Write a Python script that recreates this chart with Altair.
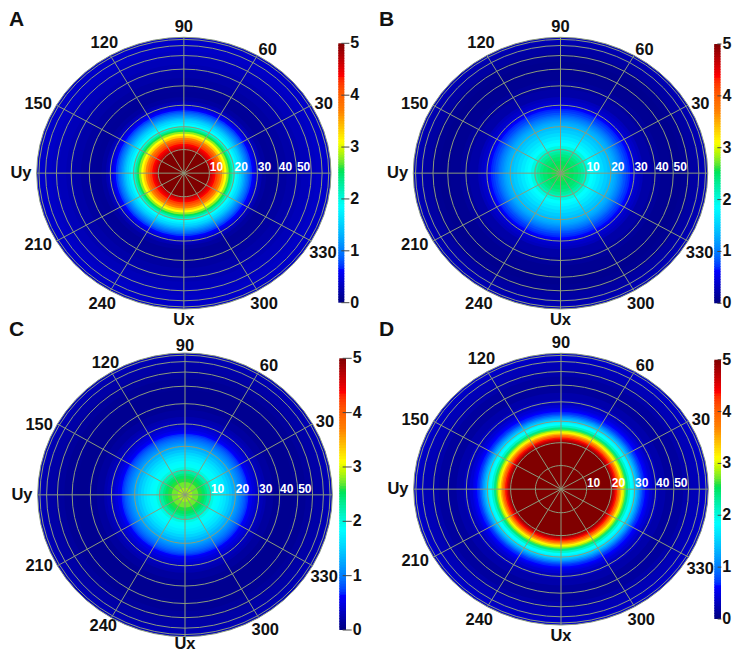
import math

import altair as alt
import pandas as pd

# Radial profiles: radius (fraction of the disk) and value,
# outermost first. Each pair is painted as a disk, inner ones on top.
A_RADIUS = [1.0, .95, .9, .85, .8, .75, .7, .65, .6, .56, .53, .515, .5, .4875, .475, .4625, .45, .44, .43, .42, .41, .4, .39, .375, .36, .345, .33, .317, .305, .29, .275, .26, .245, .23, .215, .203, .192, .18, .17]
A_VALUE = [.38, .36, .33, .29, .25, .21, .17, .13, .12, .17, .26, .33, .42, .52, .625, .73, .85, .95, 1.05, 1.17, 1.3, 1.42, 1.55, 1.7, 1.85, 2.05, 2.3, 2.55, 2.8, 3.1, 3.35, 3.7, 4, 4.2, 4.375, 4.5, 4.6, 4.75, 5]
B_RADIUS = [1.0, .97, .93, .88, .82, .75, .68, .62, .56, .54, .52, .5, .486, .473, .46, .445, .43, .42, .41, .4, .39, .38, .37, .357, .345, .32, .295, .27, .245, .225, .2, .18, .16, .14, .12, .09, .06, .03]
B_VALUE = [.3, .24, .18, .1, .08, .1, .14, .2, .3, .36, .42, .52, .625, .67, .72, .8, .88, .95, 1.02, 1.08, 1.15, 1.22, 1.28, 1.34, 1.4, 1.48, 1.58, 1.68, 1.78, 1.85, 2.0, 2.15, 2.28, 2.38, 2.46, 2.52, 2.58, 2.62]
C_RADIUS = [1.0, .97, .93, .88, .82, .74, .66, .6, .55, .53, .51, .49, .475, .457, .44, .43, .42, .41, .4, .39, .38, .37, .36, .35, .34, .32, .3, .28, .26, .24, .22, .195, .17, .15, .135, .115, .09, .05]
C_VALUE = [.3, .25, .2, .15, .11, .09, .11, .16, .24, .29, .34, .4, .46, .54, .625, .69, .76, .83, .9, .96, 1.03, 1.09, 1.16, 1.23, 1.3, 1.42, 1.54, 1.65, 1.73, 1.8, 1.88, 2.0, 2.25, 2.4, 2.5, 2.6, 2.72, 2.85]
D_RADIUS = [1.0, .97, .93, .88, .83, .77, .71, .66, .62, .6, .59, .58, .57, .56, .55, .54, .53, .52, .51, .5, .493, .486, .47, .455, .44, .43, .42, .41, .4, .39, .38, .37, .36, .35, .342]
D_VALUE = [.4, .34, .28, .22, .16, .15, .22, .32, .42, .5, .56, .625, .67, .72, .85, 1.0, 1.17, 1.35, 1.5, 1.65, 1.75, 1.85, 2.1, 2.4, 2.7, 2.95, 3.15, 3.45, 3.75, 4.05, 4.35, 4.55, 4.75, 4.9, 5]

# Grid and labels
RING_DEG = [10, 20, 30, 40, 50, 60, 70, 80, 90]
RING_LABELS = [10, 20, 30, 40, 50]
SPOKE_DEG = list(range(0, 360, 30))
AZ_TEXT = ["90", "120", "60", "150", "30", "Uy", "210", "330", "240", "300", "Ux"]
AZ_X = [0, -.54, .57, -.99, .95, -1.107, -.99, .945, -.555, .545, 0]
AZ_Y = [1.078, .956, .907, .507, .51, 0, -.527, -.588, -.961, -.961, -1.083]
AZ_Y_C = [1.052, .93, .906, .493, .512, 0, -.502, -.58, -.925, -.955, -1.05]
BAR_TICKS = [0, 1, 2, 3, 4, 5]
BAR_STEPS = [i / 20 for i in range(100)]

# Colour stops
JET_STOPS = [0, .625, 1.85, 2.2, 2.6, 3.1, 3.7, 4.375, 5]
JET_COLORS = ["#000080", "#0000ff", "#00ffff", "#00f0b0", "#20e040", "#ffff00", "#ff8000", "#ff0000", "#800000"]
jet = alt.Scale(domain=JET_STOPS, range=JET_COLORS)

FONT = "Liberation Sans"
GRID = "#8b9a7c"
AZ_SAMPLES = list(range(0, 360, 6))


def circle_points(radius):
    return [
        {"az": a, "x": radius * math.cos(math.radians(a)), "y": radius * math.sin(math.radians(a))}
        for a in AZ_SAMPLES
    ]


def panel(letter, letter_pos, xr, yr, bar_x, bar_y, label_x, radius, value, az_y):
    x_enc = alt.X("x:Q", axis=None, scale=alt.Scale(domain=[-1, 1], range=xr, nice=False, zero=False))
    y_enc = alt.Y("y:Q", axis=None, scale=alt.Scale(domain=[-1, 1], range=yr, nice=False, zero=False))

    rows = []
    for k, (r, v) in enumerate(zip(radius, value)):
        rows += [{"k": k, "v": v, **p} for p in circle_points(r)]
    heat = (
        alt.Chart(pd.DataFrame(rows))
        .mark_line(interpolate="linear-closed", filled=True, strokeWidth=0)
        .encode(
            x=x_enc,
            y=y_enc,
            detail=alt.Detail("k:N"),
            order=alt.Order("az:Q"),
            fill=alt.Fill("v:Q", scale=jet, legend=None),
        )
    )

    ring_rows = []
    for deg in RING_DEG:
        ring_rows += [{"ring": deg, **p} for p in circle_points(math.sin(math.radians(deg)))]
    rings = (
        alt.Chart(pd.DataFrame(ring_rows))
        .mark_line(interpolate="linear-closed", color=GRID, strokeWidth=1)
        .encode(x=x_enc, y=y_enc, detail=alt.Detail("ring:N"), order=alt.Order("az:Q"))
    )

    spoke_df = pd.DataFrame({
        "x": [0.0] * len(SPOKE_DEG),
        "y": [0.0] * len(SPOKE_DEG),
        "x2": [math.cos(math.radians(d)) for d in SPOKE_DEG],
        "y2": [math.sin(math.radians(d)) for d in SPOKE_DEG],
    })
    spokes = (
        alt.Chart(spoke_df)
        .mark_rule(color=GRID, strokeWidth=1)
        .encode(x=x_enc, y=y_enc, x2="x2:Q", y2="y2:Q")
    )

    ring_text = (
        alt.Chart(pd.DataFrame({
            "x": [math.sin(math.radians(d)) for d in RING_LABELS],
            "y": [0.0] * len(RING_LABELS),
            "t": [str(d) for d in RING_LABELS],
        }))
        .mark_text(font=FONT, fontSize=12, fontWeight="bold", color="white", dx=7, dy=-6, align="center", baseline="middle")
        .encode(x=x_enc, y=y_enc, text="t:N")
    )

    az_text = (
        alt.Chart(pd.DataFrame({"x": AZ_X, "y": az_y, "t": AZ_TEXT}))
        .mark_text(font=FONT, fontSize=16.5, fontWeight="bold", color="#111111", align="center", baseline="middle")
        .encode(x=x_enc, y=y_enc, text="t:N")
    )

    # colour bar
    bar_xs = alt.X("bx:Q", axis=None, scale=alt.Scale(domain=[0, 1], range=bar_x, nice=False, zero=False))
    bar_ys = alt.Y("by:Q", axis=None, scale=alt.Scale(domain=[0, 5], range=bar_y, nice=False, zero=False))
    bar_df = pd.DataFrame({
        "bx": [0.0] * len(BAR_STEPS),
        "bx2": [1.0] * len(BAR_STEPS),
        "by": BAR_STEPS,
        "by2": [min(5, s + .07) for s in BAR_STEPS],
        "v": [s + .025 for s in BAR_STEPS],
    })
    bar = (
        alt.Chart(bar_df)
        .mark_rect()
        .encode(x=bar_xs, x2="bx2:Q", y=bar_ys, y2="by2:Q", fill=alt.Fill("v:Q", scale=jet, legend=None))
    )
    tick_df = pd.DataFrame({
        "bx": [.5] * len(BAR_TICKS),
        "bx2": [label_x - .15] * len(BAR_TICKS),
        "by": BAR_TICKS,
        "lx": [label_x] * len(BAR_TICKS),
        "t": [str(t) for t in BAR_TICKS],
    })
    bar_ticks = (
        alt.Chart(tick_df)
        .mark_rule(color="#444444", strokeWidth=1)
        .encode(x=bar_xs, x2="bx2:Q", y=bar_ys)
    )
    bar_text = (
        alt.Chart(tick_df)
        .mark_text(font=FONT, fontSize=16, fontWeight="bold", color="#111111", align="left", baseline="middle")
        .encode(
            x=alt.X("lx:Q", axis=None, scale=alt.Scale(domain=[0, 1], range=bar_x, nice=False, zero=False)),
            y=bar_ys,
            text="t:N",
        )
    )

    tag = (
        alt.Chart(pd.DataFrame({"t": [letter]}))
        .mark_text(font=FONT, fontSize=21, fontWeight="bold", color="#111111", align="left", baseline="middle")
        .encode(x=alt.value(letter_pos[0]), y=alt.value(letter_pos[1]), text="t:N")
    )
    return [heat, rings, spokes, ring_text, az_text, bar, bar_ticks, bar_text, tag]


layers = []
# scale ranges are pixel places inside the plot (page position minus 8)
layers += panel("A", (1, 12), [28.7, 323], [301, 29.3], [330.3, 336.3], [294.7, 35.3], 2.0, A_RADIUS, A_VALUE, AZ_Y)
layers += panel("B", (371, 12), [405.3, 699.7], [301, 29.3], [706.2, 712.5], [295.3, 36], 1.3, B_RADIUS, B_VALUE, AZ_Y)
layers += panel("C", (1, 322), [29.7, 324.3], [628.7, 345], [331.3, 338], [622, 350.3], 2.0, C_RADIUS, C_VALUE, AZ_Y_C)
layers += panel("D", (371, 322), [405.7, 700.3], [617, 345.3], [706.3, 713], [611, 351.7], 1.2, D_RADIUS, D_VALUE, AZ_Y)

chart = (
    alt.layer(*layers)
    .resolve_scale(x="independent", y="independent")
    .properties(
        width=724,
        height=646,
        padding=0,
        autosize=alt.AutoSizeParams(type="none"),
    )
    .configure_view(stroke=None)
)

chart.save("out.html", embed_options={"renderer": "svg", "actions": False})
